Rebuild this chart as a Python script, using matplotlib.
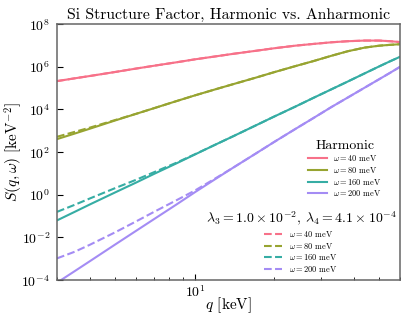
import matplotlib
matplotlib.use('Agg')
import matplotlib.pyplot as plt
import numpy as np
import seaborn as sns

plt.rcParams['font.family'] = 'serif'
plt.rcParams['font.serif'] = ['cmr10']
plt.rcParams['mathtext.fontset'] = 'cm'
plt.rcParams['axes.formatter.use_mathtext'] = True

# momentum transfer q [keV] and log10 S(q, w)
q = [3, 3.5, 4, 5, 6, 7, 8.5, 10, 12, 14, 17, 20, 24, 28, 33, 38, 44, 50, 55, 60]
omegas = [40, 80, 160, 200]
y_ticks = [1e-4, 1e-2, 1e0, 1e2, 1e4, 1e6, 1e8]

harm_40 = [5.33, 5.46, 5.57, 5.76, 5.92, 6.05, 6.21, 6.35, 6.49, 6.61,
           6.75, 6.87, 6.99, 7.07, 7.15, 7.20, 7.23, 7.23, 7.20, 7.16]
harm_80 = [2.61, 2.87, 3.10, 3.49, 3.80, 4.06, 4.39, 4.66, 4.95, 5.19,
           5.49, 5.75, 6.03, 6.26, 6.52, 6.73, 6.90, 6.99, 7.03, 7.06]
harm_160 = [-1.20, -0.80, -0.45, 0.12, 0.58, 0.98, 1.47, 1.89, 2.36, 2.75,
            3.25, 3.67, 4.13, 4.53, 4.95, 5.31, 5.69, 6.02, 6.26, 6.47]
harm_200 = [-4.12, -3.58, -3.11, -2.32, -1.68, -1.14, -0.46, 0.12, 0.75, 1.28,
            1.93, 2.48, 3.08, 3.58, 4.12, 4.56, 5.02, 5.42, 5.72, 6.00]

anh_40 = harm_40
anh_80 = [2.72, 2.95, 3.15, 3.51, 3.80, 4.06, 4.39, 4.66, 4.95, 5.19,
          5.49, 5.75, 6.03, 6.26, 6.52, 6.73, 6.90, 6.99, 7.03, 7.06]
anh_160 = [-0.80, -0.47, -0.17, 0.32, 0.71, 1.06, 1.50, 1.90, 2.36, 2.75,
           3.25, 3.67, 4.13, 4.53, 4.95, 5.31, 5.69, 6.02, 6.26, 6.47]
anh_200 = [-2.98, -2.67, -2.34, -1.75, -1.24, -0.80, -0.26, 0.20, 0.78, 1.28,
           1.93, 2.48, 3.08, 3.58, 4.12, 4.56, 5.02, 5.42, 5.72, 6.00]

harm = [harm_40, harm_80, harm_160, harm_200]
anh = [anh_40, anh_80, anh_160, anh_200]

colors = sns.color_palette('husl', 4)

fig = plt.figure(figsize=(4.07, 3.22), dpi=100)
ax = fig.add_axes([0.140, 0.130, 0.843, 0.795])

h_lines = []
a_lines = []
for i, w in enumerate(omegas):
    l, = ax.plot(q, 10.0**np.array(harm[i]), color=colors[i], lw=1.5,
                 label=r'$\omega = %d$ meV' % w)
    h_lines.append(l)
for i, w in enumerate(omegas):
    l, = ax.plot(q, 10.0**np.array(anh[i]), color=colors[i], lw=1.5, ls='--',
                 label=r'$\omega = %d$ meV' % w)
    a_lines.append(l)

ax.set_xscale('log')
ax.set_yscale('log')
ax.set_yticks(y_ticks)
ax.set_xlim(3, 60)
ax.set_ylim(1e-4, 1e8)
for s in ax.spines.values():
    s.set_color('0.4')
    s.set_linewidth(1.1)
ax.tick_params(which='major', direction='in', length=4.5, labelsize=10)
ax.tick_params(which='minor', direction='in', length=2.5)
ax.tick_params(axis='x', pad=3)
ax.tick_params(axis='y', pad=5)

ax.set_title('Si Structure Factor, Harmonic vs. Anharmonic', fontsize=11.3, pad=4)
ax.set_xlabel(r'$q$ [keV]', fontsize=11)
ax.set_ylabel(r'$S(q,\omega)$ [keV$^{-2}$]', fontsize=11)
ax.xaxis.set_label_coords(0.5, -0.058)
ax.yaxis.set_label_coords(-0.093, 0.5)

leg1 = ax.legend(handles=h_lines, title='Harmonic', fontsize=6, title_fontsize=10,
                 frameon=False, loc='center', bbox_to_anchor=(0.84, 0.435),
                 handlelength=2.2, labelspacing=0.2)
ax.add_artist(leg1)
leg2 = ax.legend(handles=a_lines,
                 title=r'$\lambda_3 = 1.0\times10^{-2}$, $\lambda_4 = 4.1\times10^{-4}$',
                 fontsize=6, title_fontsize=10, frameon=False, loc='center',
                 bbox_to_anchor=(0.711, 0.15), handlelength=2.2, labelspacing=0.2)

fig.savefig('out.png', dpi=100)
